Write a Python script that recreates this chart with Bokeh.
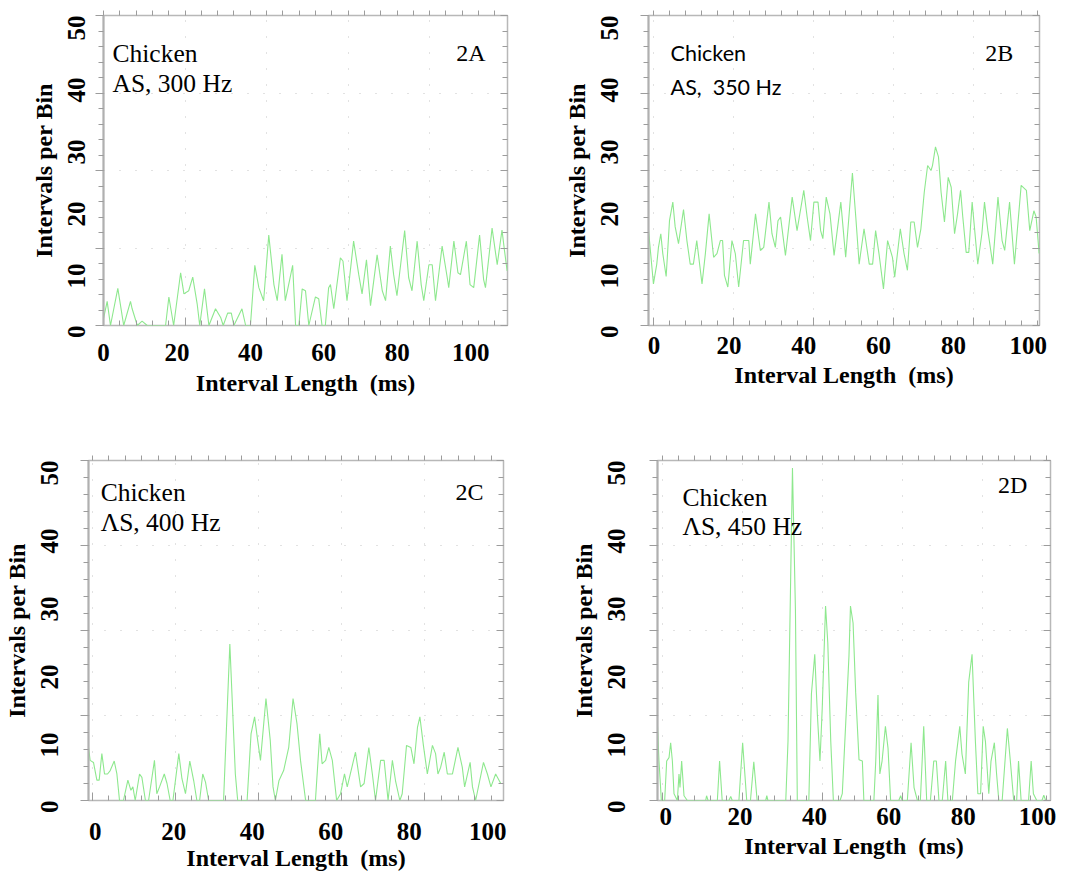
import math
from bokeh.plotting import figure
from bokeh.models import Range1d, LinearAxis, FixedTicker, Label, CustomJSTickFormatter
from bokeh.layouts import row, column
from bokeh.embed import file_html
from bokeh.resources import INLINE

# ---------------- data ----------------
a_x = [0, 1.0, 1.9, 3.9, 5.5, 7.35, 7.8, 9.2, 10.5, 11.9, 16.9, 17.8, 19.1, 21.0, 21.9,
       23.2, 24.3, 25.5, 26.2, 27.5, 28.7, 30.5, 31.9, 32.6, 33.8, 34.8, 35.5, 37.7, 38.7,
       40.0, 41.2, 42.3, 43.6, 45.0, 46.4, 47.3, 48.6, 49.5, 50.7, 51.5, 52.3, 53.2, 54.1,
       55.0, 55.9, 57.7, 58.6, 59.5, 60.4, 61.3, 61.8, 62.7, 64.5, 65.2, 66.3, 68.1, 69.5,
       70.4, 71.6, 72.7, 74.5, 75.9, 76.8, 78.1, 79.0, 79.9, 82.0, 83.1, 84.0, 85.4, 86.5,
       87.2, 88.6, 89.5, 90.4, 92.2, 93.6, 94.0, 95.4, 96.5, 97.2, 98.8, 99.8, 100.8, 102.4,
       103.5, 104.0, 105.8, 107.2, 108.5, 109.2, 109.9]
a_y = [1.1, 3.9, 0, 6.0, 0, 3.9, 2.7, 0, 0.7, 0, 0, 4.6, 0, 8.5, 5.1,
       5.6, 7.8, 3.5, 0, 5.9, 0, 2.7, 1.3, 0, 2.0, 2.0, 0, 2.7, 0,
       0, 9.7, 6.1, 4.0, 14.6, 6.6, 4.0, 11.5, 4.0, 7.4, 9.7, 0, 0, 5.9,
       5.6, 0, 4.6, 4.3, 0, 0, 6.1, 6.6, 2.7, 10.9, 10.4, 4.0, 13.6, 8.2,
       5.1, 10.6, 3.2, 11.4, 5.6, 4.0, 12.8, 8.2, 4.8, 15.3, 7.7, 5.6, 13.6, 6.6,
       4.0, 9.8, 9.8, 4.0, 12.8, 7.7, 6.1, 13.6, 8.5, 8.2, 13.6, 6.6, 6.1, 14.6,
       7.4, 6.1, 15.7, 9.8, 15.4, 12.0, 8.8]

b_x = [-1.5, -1.07, -0.18, 0.71, 1.16, 1.79, 2.32, 3.22, 4.11, 5.0, 5.63, 6.52, 7.86, 8.76,
       9.65, 10.5, 11.4, 12.8, 13.7, 14.7, 15.9, 16.8, 17.7, 18.3, 18.8, 19.7, 20.8, 21.7,
       22.6, 23.9, 25.3, 25.7, 27.1, 28.4, 29.3, 30.7, 31.5, 32.4, 33.1, 33.8, 35.1, 36.9,
       38.2, 40.0, 40.9, 41.8, 42.7, 43.8, 44.5, 45.1, 46.0, 47.0, 48.1, 49.9, 51.2, 53.0,
       53.9, 54.8, 56.1, 57.5, 58.4, 59.2, 60.1, 61.3, 62.4, 63.7, 64.3, 65.8, 66.8, 67.7,
       68.6, 69.5, 70.4, 71.3, 72.2, 73.1, 74.0, 74.4, 75.2, 76.0, 76.7, 77.6, 78.6, 79.4,
       80.3, 81.1, 81.9, 82.5, 83.4, 84.1, 85.0, 85.6, 86.5, 87.6, 88.3, 89.2, 90.5, 91.9,
       93.0, 93.7, 95.0, 96.3, 98.1, 99.5, 100.4, 101.5, 102.1, 102.9]
b_y = [15.3, 12.6, 6.7, 9.9, 12.6, 14.8, 11.6, 7.9, 16.9, 19.9, 15.9, 13.2, 18.7, 13.7,
       9.9, 9.9, 13.7, 6.7, 11.6, 18.0, 11.0, 11.6, 13.7, 13.7, 8.1, 6.2, 13.7, 11.6,
       6.2, 13.7, 13.7, 9.9, 18.0, 12.1, 12.6, 19.9, 14.8, 12.6, 16.9, 17.5, 11.3, 20.7,
       15.3, 21.8, 17.5, 13.7, 19.9, 19.9, 15.3, 14.0, 20.7, 18.0, 11.3, 19.9, 11.0, 24.6,
       17.5, 9.9, 15.6, 9.9, 9.9, 15.3, 11.6, 5.9, 13.7, 11.0, 7.8, 15.6, 11.6, 8.9,
       16.7, 16.7, 12.6, 15.6, 21.5, 25.8, 25.0, 25.8, 28.8, 27.2, 21.5, 16.7, 23.9, 22.3,
       14.8, 18.0, 21.8, 17.5, 11.8, 11.8, 19.9, 15.9, 9.9, 14.8, 19.9, 15.3, 9.9, 20.7,
       13.7, 12.1, 19.9, 9.9, 22.6, 21.8, 15.3, 18.5, 17.5, 11.6]

c_x = [-1.7, -1.28, -0.43, 0.43, 1.02, 1.7, 2.38, 3.15, 3.83, 4.85, 5.53, 6.2, 7.2, 8.33,
       9.1, 9.6, 10.2, 11.3, 11.9, 12.8, 13.6, 15.1, 15.7, 16.4, 17.6, 18.3, 19.1, 19.8,
       21.3, 22.1, 23.0, 24.1, 25.1, 25.9, 26.6, 27.4, 28.1, 28.9, 32.7, 34.3, 35.7, 36.3,
       38.7, 39.7, 40.6, 41.4, 42.1, 43.5, 44.6, 45.3, 45.9, 46.8, 48.0, 49.3, 50.4, 51.4,
       52.3, 53.6, 56.1, 57.2, 57.8, 58.7, 59.5, 60.4, 61.5, 62.5, 63.5, 64.2, 66.3, 67.6,
       68.5, 69.7, 70.6, 71.4, 72.7, 73.6, 74.6, 75.7, 76.5, 77.6, 78.2, 79.3, 80.4, 81.2,
       82.1, 82.7, 83.6, 84.6, 85.9, 86.7, 87.3, 88.0, 88.9, 89.7, 91.0, 92.4, 93.5, 94.1,
       95.5, 96.1, 96.9, 98.9, 99.9, 100.8, 102.0, 103.3]
c_y = [7.8, 5.9, 5.6, 3.0, 3.0, 6.9, 3.9, 3.9, 4.4, 5.8, 3.9, 0, 0, 3.0,
       1.5, 2.0, 0, 3.9, 3.4, 0, 0, 5.9, 1.0, 2.0, 3.9, 2.5, 0, 0,
       6.9, 3.2, 1.0, 5.8, 2.9, 0, 0, 3.9, 2.7, 0, 0, 23.0, 3.9, 0,
       0, 9.8, 12.3, 8.8, 5.9, 15.0, 8.8, 2.0, 0, 2.9, 4.4, 7.8, 15.0, 11.3,
       5.9, 0, 0, 9.8, 5.4, 5.9, 7.8, 5.9, 0, 1.0, 3.9, 2.0, 7.1, 2.0,
       2.5, 7.8, 3.9, 0, 5.9, 5.9, 0, 5.9, 2.9, 0, 1.0, 8.1, 7.8, 5.4,
       10.8, 12.3, 8.1, 3.9, 8.1, 6.9, 3.9, 4.9, 7.1, 3.9, 3.9, 7.8, 4.9, 2.0,
       5.6, 2.0, 0, 5.6, 3.9, 2.0, 3.9, 2.5]

d_x = [-2.2, -1.8, -1.16, -0.27, 0.27, 0.9, 1.34, 1.8, 2.24, 3.14, 3.58, 3.85, 4.3, 4.93,
       5.82, 10.75, 11.0, 11.4, 13.9, 14.5, 15.2, 17.0, 17.5, 17.9, 19.7, 20.7, 21.8, 22.8,
       23.7, 24.6, 26.9, 27.2, 27.5, 32.3, 32.9, 34.1, 34.9, 35.4, 38.5, 39.2, 40.1, 40.8,
       41.5, 42.1, 43.0, 43.6, 44.4, 45.1, 46.9, 47.5, 48.4, 49.3, 49.7, 50.4, 51.1, 52.0,
       52.9, 53.3, 56.0, 56.5, 57.1, 57.6, 58.2, 59.1, 59.8, 60.5, 62.7, 63.2, 63.6, 65.0,
       66.0, 66.8, 67.7, 68.5, 69.4, 70.2, 71.2, 72.1, 72.8, 73.5, 74.4, 75.3, 75.9, 77.1,
       77.96, 79.1, 79.7, 80.6, 81.5, 82.4, 83.3, 83.96, 84.7, 85.4, 86.0, 86.9, 87.5, 88.4,
       89.0, 89.6, 90.5, 91.9, 92.7, 93.6, 94.4, 94.9, 95.6, 97.6, 98.3, 98.9, 99.8, 101.2,
       101.7, 102.2, 103.4]
d_y = [10.9, 5.8, 0, 0, 5.8, 6.3, 8.5, 5.8, 1.0, 0, 3.9, 1.9, 5.8, 0.7,
       0, 0, 0.7, 0, 0, 5.8, 0, 0, 0.6, 0, 0, 8.5, 0, 0,
       5.7, 0, 0, 0.7, 0, 0, 8.7, 48.9, 28.0, 0, 0, 15.7, 21.5, 12.6,
       5.8, 13.5, 28.6, 23.2, 8.7, 0, 0, 1.0, 11.1, 21.3, 28.6, 26.1, 15.9, 6.0,
       5.8, 0, 0, 5.8, 15.5, 3.9, 5.8, 10.9, 7.7, 0, 0, 0.7, 0, 0,
       8.5, 1.9, 0, 0, 10.9, 0, 0, 5.8, 5.8, 0, 0, 5.8, 0, 0,
       5.8, 10.9, 6.8, 3.9, 17.4, 21.5, 8.7, 1.0, 1.0, 10.9, 8.7, 1.0, 5.8, 8.5,
       3.9, 0, 0, 10.6, 5.8, 0, 0, 5.8, 0, 0, 5.8, 1.0, 0, 0,
       0.8, 0, 0]

x_tick_labels = [0, 20, 40, 60, 80, 100]
y_tick_labels = [0, 10, 20, 30, 40, 50]
x_title = "Interval Length\u00a0 (ms)"
y_title = "Intervals per Bin"
species = "Chicken"
conditions = ["AS, 300 Hz", "AS,\u00a0 350 Hz", "\u039bS, 400 Hz", "\u039bS, 450 Hz"]
panel_ids = ["2A", "2B", "2C", "2D"]

# ---------------- styling ----------------
SERIF = "Liberation Serif"
SANS = "Lato"
LINE = "#8ee88e"
FRAME = "#b8b8b8"
TICK = "#9c9c9c"
BLANK = CustomJSTickFormatter(code="return ''")


def tick_positions(origin, step, lo, hi):
    majors, minors = [], []
    for k in range(-10, 40):
        v = origin + k * step / 5.0
        if lo - 1e-6 <= v <= hi + 1e-6:
            minors.append(round(v, 4))
            if k % 5 == 0:
                majors.append(round(v, 4))
    return majors, minors


def hidden_labels(ax):
    ax.formatter = BLANK
    ax.major_label_text_font_size = "0px"
    ax.major_label_standoff = 0
    ax.axis_line_color = None
    ax.major_tick_line_color = TICK
    ax.minor_tick_line_color = TICK


def make_panel(xs, ys, xr, size, borders, xorigin, xstep, xstand, xlstand, ystand, ylstand,
               lab_xy, cond_y, id_xy, cond_font, cond_size, idx):
    w, h = size
    bl, br, bt, bb = borders
    p = figure(width=w, height=h, x_range=Range1d(*xr), y_range=Range1d(0, 50),
               output_backend="svg", toolbar_location=None,
               min_border_left=bl, min_border_right=br, min_border_top=bt, min_border_bottom=bb,
               background_fill_color="white", border_fill_color="white")
    p.outline_line_color = FRAME
    p.outline_line_width = 1.5

    p.line(xs, ys, line_color=LINE, line_width=1.1)

    xmaj, xmin = tick_positions(xorigin, xstep, xr[0], xr[1])
    ymaj, ymin = tick_positions(0, 12.5, 0, 50)

    # tick-only bottom axis (also drives the dotted x grid)
    xa = p.xaxis[0]
    xa.ticker = FixedTicker(ticks=xmaj, minor_ticks=xmin)
    hidden_labels(xa)
    xa.major_tick_in, xa.major_tick_out = 8, 0
    xa.minor_tick_in, xa.minor_tick_out = 5, 0

    # tick-only left axis
    ya = p.yaxis[0]
    ya.ticker = FixedTicker(ticks=ymaj, minor_ticks=ymin)
    hidden_labels(ya)
    ya.axis_line_color = "#b0b0b0"
    ya.axis_line_width = 2
    ya.major_tick_in, ya.major_tick_out = 0, 8
    ya.minor_tick_in, ya.minor_tick_out = 0, 5

    for g in (p.xgrid[0], p.ygrid[0]):
        g.grid_line_color = "#c4c4c4"
        g.grid_line_dash = "1 15"
        g.grid_line_width = 1

    # label axes
    xl = LinearAxis(ticker=FixedTicker(ticks=x_tick_labels), axis_label=x_title)
    yl = LinearAxis(ticker=FixedTicker(ticks=y_tick_labels), axis_label=y_title,
                    major_label_orientation=math.pi / 2)
    for ax, st, lst in ((xl, xstand, xlstand), (yl, ystand, ylstand)):
        ax.axis_line_color = None
        ax.major_tick_in = ax.major_tick_out = 0
        ax.minor_tick_in = ax.minor_tick_out = 0
        ax.major_label_standoff = st
        ax.axis_label_standoff = lst
        ax.major_label_text_font = SERIF
        ax.major_label_text_font_style = "bold"
        ax.major_label_text_font_size = "25px"
        ax.major_label_text_color = "black"
        ax.axis_label_text_font = SERIF
        ax.axis_label_text_font_style = "bold"
        ax.axis_label_text_font_size = "24px"
        ax.axis_label_text_color = "black"
    p.add_layout(xl, "below")
    p.add_layout(yl, "left")

    # top and right tick marks
    top = LinearAxis(ticker=FixedTicker(ticks=xmin))
    hidden_labels(top)
    top.major_tick_in, top.major_tick_out = 0, 5
    p.add_layout(top, "above")
    right = LinearAxis(ticker=FixedTicker(ticks=ymaj, minor_ticks=ymin))
    hidden_labels(right)
    right.major_tick_in, right.major_tick_out = 7, 0
    right.minor_tick_in, right.minor_tick_out = 5, 0
    p.add_layout(right, "right")

    p.add_layout(Label(x=lab_xy[0], y=lab_xy[1], text=species, text_font=cond_font,
                       text_font_size=cond_size, text_color="black",
                       text_align="left", text_baseline="alphabetic"))
    p.add_layout(Label(x=lab_xy[0], y=cond_y, text=conditions[idx], text_font=cond_font,
                       text_font_size=cond_size, text_color="black",
                       text_align="left", text_baseline="alphabetic"))
    p.add_layout(Label(x=id_xy[0], y=id_xy[1], text=panel_ids[idx], text_font=SERIF,
                       text_font_size="24px", text_color="black",
                       text_align="right", text_baseline="alphabetic"))
    return p


pa = make_panel(a_x, a_y, (0, 110), (540, 430), (103, 33, 15, 102), 0.0, 22.2,
                18, 6, 19, 0, (2.45, 43.9), 39.1, (104.0, 43.9), SERIF, "25.5px", 0)
pb = make_panel(b_x, b_y, (-1.5, 103), (538, 430), (108, 39, 15, 105), -0.16, 21.4,
                11, 5, 31, 0, (4.4, 43.9), 38.5, (96.0, 43.9), SANS, "21.5px", 1)
pc = make_panel(c_x, c_y, (-1.7, 104), (540, 444), (88, 37, 30, 74), -0.8, 21.2,
                22, 2, 31, 0, (1.4, 45.3), 40.9, (98.9, 45.3), SERIF, "25.5px", 2)
pd = make_panel(d_x, d_y, (-2.2, 103.5), (538, 444), (117, 28, 25, 74), -0.86, 21.5,
                7, 5, 33, 0, (4.5, 44.6), 40.3, (97.3, 46.4), SERIF, "25.5px", 3)

layout = column(row(pa, pb), row(pc, pd))
open("out.html", "w").write(file_html(layout, INLINE))
